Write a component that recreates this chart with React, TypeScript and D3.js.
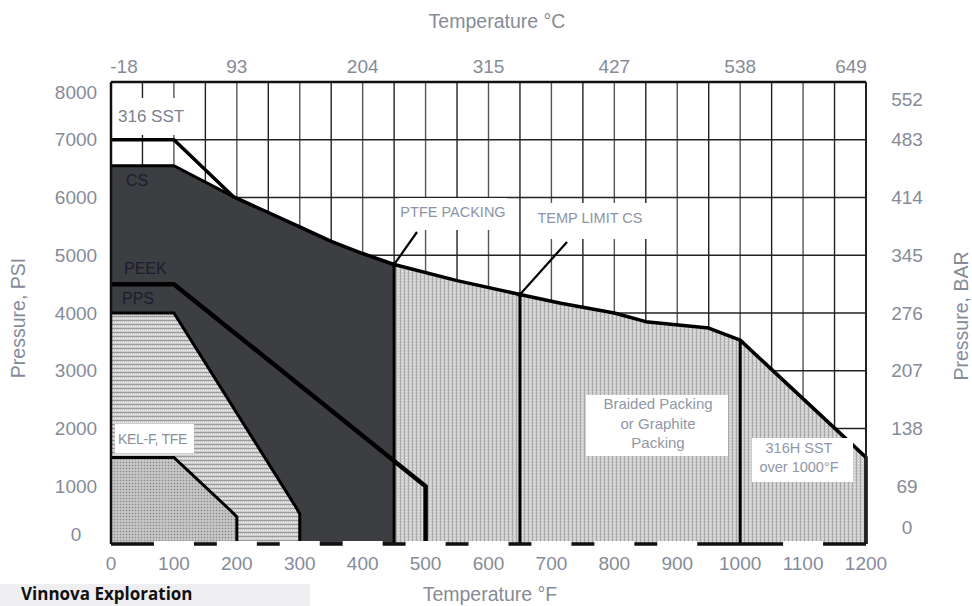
import React from "react";
import * as d3 from "d3";

type P = [number, number];

// Temperature (°F) ticks on the bottom axis
const tempFTicks = [0, 100, 200, 300, 400, 500, 600, 700, 800, 900, 1000, 1100, 1200];
// Temperature (°C) labels on the top axis and the °F value they sit on
const tempCTickF = [0, 200, 400, 600, 800, 1000, 1200];
const tempCLabels = ["-18", "93", "204", "315", "427", "538", "649"];
// Pressure ticks
const psiTicks = [0, 1000, 2000, 3000, 4000, 5000, 6000, 7000, 8000];
const barLabels = ["0", "69", "138", "207", "276", "345", "414", "483", "552"];

// Limits (°F, PSI)
const sstTop: P[] = [[0, 7000], [100, 7000], [195, 6010]];
const csTop: P[] = [[0, 6550], [100, 6550], [195, 6010]];
const envelope: P[] = [
  [195, 6010], [250, 5740], [300, 5490], [350, 5240], [400, 5030], [450, 4840],
  [550, 4560], [650, 4320], [715, 4170], [800, 4000], [850, 3850], [950, 3740],
  [1000, 3530], [1200, 1500],
];
const peekLine: P[] = [[0, 4500], [100, 4500], [500, 1000], [500, 0]];
const ppsLine: P[] = [[0, 4000], [100, 4000], [295, 620], [300, 520], [300, 0]];
const kelLine: P[] = [[0, 1500], [100, 1500], [190, 580], [200, 470], [200, 0]];
const ptfeLimitF = 450;
const csLimitF = 650;
const sst316HF = 1000;

const W = 972;
const H = 606;
const FONT = "'Liberation Sans', Arial, Helvetica, sans-serif";
const TXT = "#858b98";

export default function App() {
  const x = d3.scaleLinear().domain([0, 1200]).range([111, 866]);
  const y = d3.scaleLinear().domain([0, 8000]).range([544, 82]);
  const [x0, x1] = x.range();
  const [y0, y1] = y.range();
  const line = d3.line<P>().x((d) => x(d[0])).y((d) => y(d[1]));

  const envAt = (f: number) => {
    const i = d3.bisector((d: P) => d[0]).left(envelope, f);
    const a = envelope[Math.max(0, i - 1)];
    const b = envelope[Math.min(envelope.length - 1, i)];
    if (a[0] === b[0]) return a[1];
    return a[1] + ((f - a[0]) / (b[0] - a[0])) * (b[1] - a[1]);
  };

  const envLeft = envelope.filter((d) => d[0] <= ptfeLimitF);
  const envRight = envelope.filter((d) => d[0] >= ptfeLimitF);
  const darkPoly: P[] = [[0, 0], ...csTop, ...envLeft.slice(1), [ptfeLimitF, 0]];
  const rightPoly: P[] = [[ptfeLimitF, 0], ...envRight, [1200, 0]];
  const ppsPoly: P[] = [[0, 0], ...ppsLine];
  const kelPoly: P[] = [[0, 0], ...kelLine];
  const sstFull: P[] = [...sstTop, ...envelope.slice(1), [1200, 0]];

  const gridF = d3.range(0, 1201, 50);

  const ptfePt: P = [x(ptfeLimitF), y(envAt(ptfeLimitF))];
  const csPt: P = [x(csLimitF), y(envAt(csLimitF))];

  const boundaryF = [0, sst316HF, 1200];

  return (
    <svg
      width={W}
      height={H}
      viewBox={`0 0 ${W} ${H}`}
      style={{ position: "absolute", left: 0, top: 0, display: "block", background: "#fff" }}
      fontFamily={FONT}
    >
      <defs>
        <pattern id="patBraid" width="4" height="3" patternUnits="userSpaceOnUse">
          <rect width="4" height="3" fill="#cdcdcd" />
          <rect x="0" y="0" width="1" height="3" fill="#aaaaaa" />
          <rect x="2" y="1" width="1" height="1" fill="#f2f2f2" />
        </pattern>
        <pattern id="patPPS" width="4" height="4" patternUnits="userSpaceOnUse">
          <rect width="4" height="4" fill="#cdcdcd" />
          <rect x="0" y="0" width="4" height="1" fill="#9b9b9b" />
          <rect x="1" y="2" width="1" height="1" fill="#f4f4f4" />
          <rect x="3" y="2" width="1" height="1" fill="#f4f4f4" />
        </pattern>
        <pattern id="patKel" width="3" height="3" patternUnits="userSpaceOnUse">
          <rect width="3" height="3" fill="#b9b9b9" />
          <rect x="0" y="0" width="1" height="1" fill="#8a8a8a" />
          <rect x="1.5" y="1.5" width="1" height="1" fill="#ececec" />
        </pattern>
        <clipPath id="plotClip">
          <rect x={x0} y={y1} width={x1 - x0} height={y0 - y1} />
        </clipPath>
      </defs>

      <rect x={0} y={0} width={W} height={H} fill="#fff" />

      {/* grid */}
      <g clipPath="url(#plotClip)">
        {gridF.map((f) => (
          <line
            key={"gv" + f}
            x1={x(f)}
            x2={x(f)}
            y1={y1}
            y2={y0}
            stroke={f % 100 === 0 ? "#555" : "#222"}
            strokeWidth={1.4}
          />
        ))}
        {psiTicks.map((p) => (
          <line key={"gh" + p} x1={x0} x2={x1} y1={y(p)} y2={y(p)} stroke="#222" strokeWidth={1.4} />
        ))}
      </g>

      {/* regions */}
      <path d={line(rightPoly) + "Z"} fill="url(#patBraid)" />
      <path d={line(darkPoly) + "Z"} fill="#3d3e42" />
      <path d={line(ppsPoly) + "Z"} fill="url(#patPPS)" />
      <path d={line(kelPoly) + "Z"} fill="url(#patKel)" />

      {/* limit lines */}
      <path d={line(ppsLine) ?? ""} fill="none" stroke="#000" strokeWidth={3} />
      <path d={line(kelLine) ?? ""} fill="none" stroke="#000" strokeWidth={3} />
      <path d={line(peekLine) ?? ""} fill="none" stroke="#000" strokeWidth={4.5} />
      <path d={line(csTop) ?? ""} fill="none" stroke="#000" strokeWidth={3} />
      <path d={line(sstFull) ?? ""} fill="none" stroke="#000" strokeWidth={3.5} strokeLinejoin="round" />
      {[ptfeLimitF, csLimitF, sst316HF].map((f) => (
        <line key={"div" + f} x1={x(f)} x2={x(f)} y1={y(envAt(f))} y2={y0} stroke="#000" strokeWidth={3} />
      ))}

      {/* frame */}
      <line x1={x0} x2={x1} y1={y1} y2={y1} stroke="#111" strokeWidth={2.5} />
      <line x1={x0} x2={x0} y1={y1} y2={y0} stroke="#111" strokeWidth={2.5} />
      <line x1={x1} x2={x1} y1={y1} y2={y0} stroke="#222" strokeWidth={2} />
      <line x1={x0} x2={x1} y1={y0} y2={y0} stroke="#111" strokeWidth={3.5} />

      {/* leader lines */}
      <line x1={417} y1={232} x2={ptfePt[0]} y2={ptfePt[1]} stroke="#000" strokeWidth={2.2} />
      <circle cx={ptfePt[0]} cy={ptfePt[1]} r={2.5} fill="#000" />
      <line x1={567} y1={242} x2={csPt[0]} y2={csPt[1]} stroke="#000" strokeWidth={2.2} />
      <circle cx={csPt[0]} cy={csPt[1]} r={2.5} fill="#000" />

      {/* region labels */}
      <rect x={113} y={98} width={87} height={37} fill="#fff" />
      <text x={118} y={116} dy="0.35em" fontSize={17} fill="#7b8190">316 SST</text>
      <text x={126} y={180} dy="0.35em" fontSize={16} fill="#1b1d2c">CS</text>
      <text x={124} y={268} dy="0.35em" fontSize={16} fill="#1b1d2c">PEEK</text>
      <text x={122} y={298} dy="0.35em" fontSize={16} fill="#1b1d2c">PPS</text>

      <rect x={115} y={424} width={79} height={29} fill="#fff" />
      <text x={118} y={439} dy="0.35em" fontSize={14} fill="#8a8f9a" letterSpacing={-0.3}>KEL-F, TFE</text>

      <rect x={399} y={198} width={108} height={32} fill="#fff" />
      <text x={453} y={212} dy="0.35em" fontSize={14.5} fill="#8c93a4" textAnchor="middle">PTFE PACKING</text>
      <rect x={535} y={203} width={112} height={36} fill="#fff" />
      <text x={590} y={218} dy="0.35em" fontSize={14.5} fill="#8c93a4" textAnchor="middle">TEMP LIMIT CS</text>

      <rect x={586} y={395} width={142} height={61} fill="#fff" />
      <text x={658} y={404} dy="0.35em" fontSize={15} fill="#9097a6" textAnchor="middle">Braided Packing</text>
      <text x={658} y={424} dy="0.35em" fontSize={15} fill="#9097a6" textAnchor="middle">or Graphite</text>
      <text x={658} y={443} dy="0.35em" fontSize={15} fill="#9097a6" textAnchor="middle">Packing</text>

      <rect x={752} y={438} width={101} height={44} fill="#fff" />
      <text x={799} y={448} dy="0.35em" fontSize={14.5} fill="#9097a6" textAnchor="middle">316H SST</text>
      <text x={799} y={467} dy="0.35em" fontSize={14.5} fill="#9097a6" textAnchor="middle">over 1000°F</text>

      {/* left axis */}
      {psiTicks.map((p) => (
        <text
          key={"yl" + p}
          x={76}
          y={Math.min(Math.max(y(p), y1 + 10), y0 - 10)}
          dy="0.35em"
          fontSize={19}
          fill={TXT}
          textAnchor="middle"
        >
          {p}
        </text>
      ))}
      {/* right axis */}
      {barLabels.map((b, i) => (
        <text
          key={"yr" + b}
          x={907}
          y={Math.min(Math.max(y(psiTicks[i]), y1 + 17), y0 - 17)}
          dy="0.35em"
          fontSize={19}
          fill={TXT}
          textAnchor="middle"
        >
          {b}
        </text>
      ))}
      {/* bottom axis */}
      {tempFTicks.map((f) => {
        const cx = Math.min(Math.max(x(f), x0 - 6), x1 + 1);
        const gap = !boundaryF.includes(f);
        return (
          <g key={"xb" + f}>
            {gap && <rect x={cx - 20} y={541} width={40} height={36} fill="#fff" />}
            <text x={cx} y={563} dy="0.35em" fontSize={19} fill={TXT} textAnchor="middle">
              {f}
            </text>
          </g>
        );
      })}
      {/* top axis */}
      {tempCLabels.map((c, i) => (
        <text
          key={"xt" + c}
          x={Math.min(Math.max(x(tempCTickF[i]), x0 + 13), x1 - 15)}
          y={66}
          dy="0.35em"
          fontSize={19}
          fill={TXT}
          textAnchor="middle"
        >
          {c}
        </text>
      ))}

      {/* axis titles */}
      <text x={497} y={21} dy="0.35em" fontSize={19.5} fill={TXT} textAnchor="middle">Temperature °C</text>
      <text x={490} y={594} dy="0.35em" fontSize={19.5} fill={TXT} textAnchor="middle">Temperature °F</text>
      <text
        transform="translate(18,318) rotate(-90)"
        dy="0.35em"
        fontSize={19.5}
        fill={TXT}
        textAnchor="middle"
      >
        Pressure, PSI
      </text>
      <text
        transform="translate(961,316) rotate(-90)"
        dy="0.35em"
        fontSize={19.5}
        fill={TXT}
        textAnchor="middle"
      >
        Pressure, BAR
      </text>

      {/* watermark */}
      <rect x={0} y={584} width={310} height={22} fill="#efeff1" />
      <text x={21} y={600} fontSize={17} fontWeight="bold" fill="#111" fontFamily="'Open Sans', 'Liberation Sans', Arial, sans-serif">
        Vinnova Exploration
      </text>
    </svg>
  );
}
